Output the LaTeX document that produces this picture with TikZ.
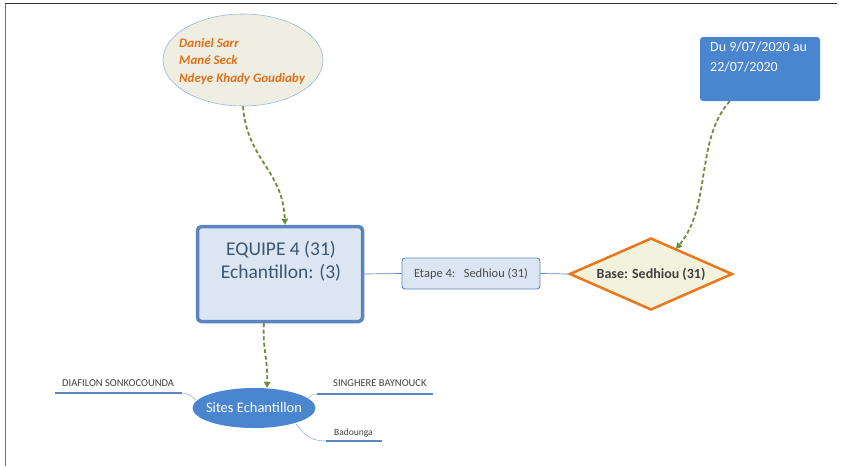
\documentclass[tikz,border=0pt]{standalone}
\usepackage{fontspec}
\setmainfont{Carlito}
\usetikzlibrary{shapes.geometric,arrows.meta}
\definecolor{olive}{HTML}{6F8C3A}
\definecolor{midblue}{HTML}{4A86D0}
\definecolor{paleblue}{HTML}{DCE6F2}
\definecolor{edgeblue}{HTML}{5B85C0}
\definecolor{orangeedge}{HTML}{E8771E}
\definecolor{orangetxt}{HTML}{E0711C}
\definecolor{beige}{HTML}{EEEEE2}
\definecolor{cream}{HTML}{F3F2DC}
\definecolor{inkblue}{HTML}{3C5670}
\tikzset{
  flow/.style={olive, line width=1.8pt, dash pattern=on 4pt off 2.5pt, -{Triangle[length=6pt,width=6.5pt]}},
  link/.style={edgeblue, line width=0.7pt},
  twig/.style={edgeblue!70, line width=0.5pt},
  under/.style={edgeblue, line width=1.6pt},
  leaf/.style={text=black!75, inner sep=0pt}
}
\begin{document}
\begin{tikzpicture}[x=1pt,y=-1pt]
\useasboundingbox (0,0) rectangle (842,466);
% frame lines
\draw[black!80, line width=1pt] (4.5,3.5) -- (837,3.5);
\draw[black!55, line width=1pt] (5,3.5) -- (5,466);

% team members
\node[ellipse, draw=edgeblue!60, fill=beige, line width=0.6pt,
      minimum width=160pt, minimum height=92pt] (team) at (243,60) {};
\node[anchor=west, align=left, text=orangetxt, inner sep=0pt,
      font=\fontsize{13}{17.5}\selectfont\itshape\bfseries] at (179,61)
  {Daniel Sarr\\Mané Seck\\Ndeye Khady Goudiaby};

% date box
\node[rectangle, rounded corners=3pt, fill=midblue, minimum width=120pt,
      minimum height=64pt] (dates) at (760,69) {};
\node[anchor=north west, align=left, text=white, inner sep=0pt,
      font=\fontsize{14}{20}\selectfont] at (710,42)
  {Du 9/07/2020 au\\22/07/2020};

% main team box
\node[rectangle, rounded corners=4pt, draw=edgeblue, fill=paleblue, line width=3.5pt,
      minimum width=165pt, minimum height=95pt] (equipe) at (280,274) {};
\node[align=center, text=inkblue, inner sep=0pt,
      font=\fontsize{19.5}{23}\selectfont] at (281,261)
  {EQUIPE 4 (31)\\Echantillon: (3)};

% step box
\node[rectangle, rounded corners=3pt, draw=edgeblue, fill=paleblue, line width=0.9pt,
      minimum width=138pt, minimum height=31pt, text=black!70,
      font=\fontsize{12.5}{14}\selectfont] (etape) at (471,273.5)
  {Etape 4:\ \ \ Sedhiou (31)};

% base diamond
\node[diamond, draw=orangeedge, fill=cream, line width=2.5pt, aspect=2.3,
      minimum width=163pt, minimum height=72pt, inner sep=0pt,
      font=\fontsize{14}{16}\selectfont\bfseries, text=black!75] (base) at (651,274)
  {Base: Sedhiou (31)};

% sample sites
\node[ellipse, fill=midblue, minimum width=123pt, minimum height=40pt, inner sep=0pt]
  (sites) at (254,408) {};
\node[text=white, inner sep=0pt, font=\fontsize{14.5}{16}\selectfont] at (sites.center)
  {Sites Echantillon};

% links
\draw[link] (equipe.east) -- (etape.west);
\draw[link] (etape.east) -- (base.west);

% dashed flow arrows
\draw[flow] (team.south) .. controls (247,160) and (283,170) .. (equipe.north -| 285,0);
\draw[flow] (dates.south west) ++(30,0) coordinate (d0)
  (d0) .. controls (695,140) and (712,205) .. (676,249);
\draw[flow] (equipe.south -| 264,0) .. controls (262,345) and (268,360) .. (sites.north -| 267,0);

% site branches
\coordinate (l0) at (182,393);
\coordinate (r0) at (317,394);
\coordinate (b0) at (326,441);
\draw[under] (55,393) -- (l0);
\draw[under] (r0) -- (433,394);
\draw[under] (b0) -- (382,441);
\draw[twig] (l0) .. controls (188,393) and (192,396) .. (196,400);
\draw[twig] (r0) .. controls (312,394) and (310,396) .. (308,398);
\draw[twig] (b0) .. controls (306,441) and (302,430) .. (296,424);
\node[leaf, anchor=base west, font=\fontsize{10.5}{12}\selectfont] at (62,386.5) {DIAFILON SONKOCOUNDA};
\node[leaf, anchor=base west, font=\fontsize{10.5}{12}\selectfont] at (333,386.5) {SINGHERE BAYNOUCK};
\node[leaf, anchor=base west, font=\fontsize{9.5}{11}\selectfont] at (334,435.5) {Badounga};
\end{tikzpicture}
\end{document}
